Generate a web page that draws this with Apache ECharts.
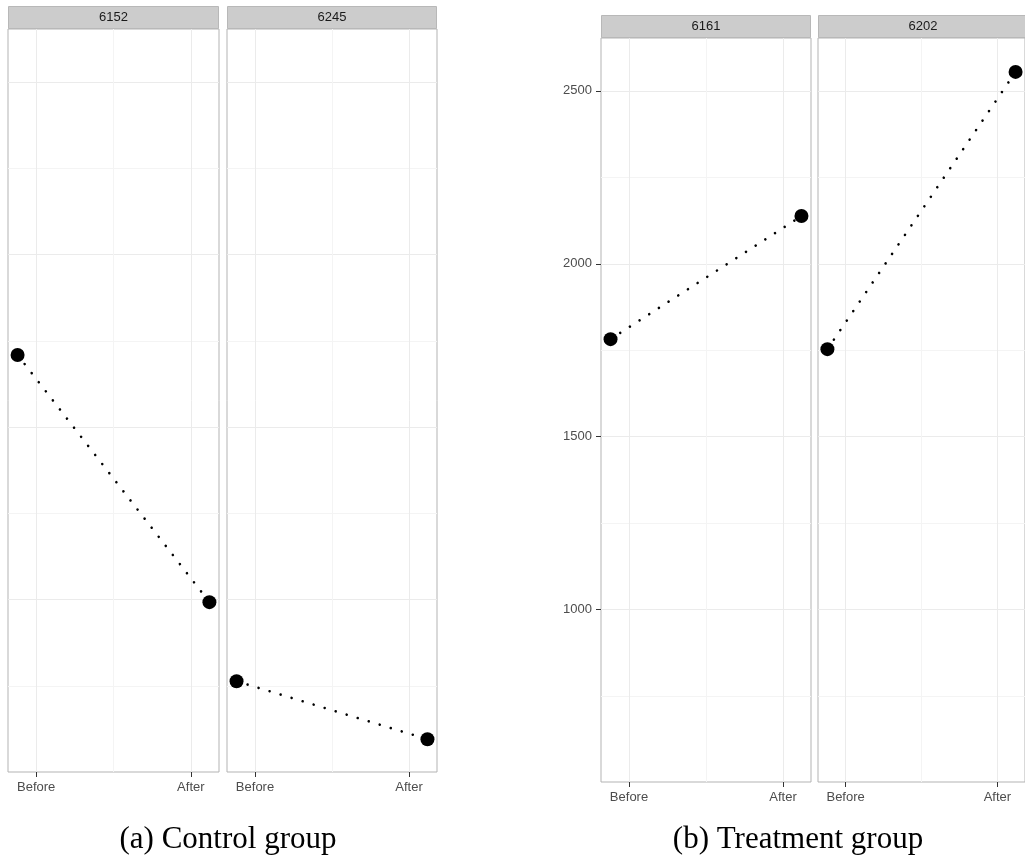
<!DOCTYPE html>
<html><head><meta charset="utf-8">
<script src="https://cdn.jsdelivr.net/npm/echarts@6/dist/echarts.min.js"></script>
<style>html,body{margin:0;padding:0;background:#fff}#c{width:1025px;height:861px}</style>
</head><body><div id="c"></div>
<script>
// ---- data ----
const panelIds = ['6152', '6245', '6161', '6202'];
const beforeX = [0.88, 0.88, 0.88, 0.88];
const afterX = [2.12, 2.12, 2.12, 2.12];
const beforeValues = [1709, 764, 1782, 1753];
const afterValues = [993, 596, 2138, 2555];
const xTickValues = [1, 2];
const xTickLabels = ['Before', 'After'];
const xMinorValues = [1.5];
const yTickValues = [1000, 1500, 2000, 2500];
const yMinorValues = [750, 1250, 1750, 2250];
const captions = ['(a) Control group', '(b) Treatment group'];

// ---- layout ----
const X_MIN = 0.818, X_MAX = 2.182, Y_MIN = 501, Y_MAX = 2653;
const layout = [
  { left: 8,   top: 29, width: 211, height: 743, yLabels: false },
  { left: 227, top: 29, width: 210, height: 743, yLabels: false },
  { left: 601, top: 38, width: 210, height: 744, yLabels: true },
  { left: 818, top: 38, width: 210, height: 744, yLabels: false }
];
const STRIP_H = 23;
const captionPos = [[228, 840], [798, 840]];
const FONT = '"Liberation Sans", Arial, sans-serif';

const grids = [], xAxes = [], yAxes = [], series = [], graphics = [];
layout.forEach((L, i) => {
  grids.push({ left: L.left, top: L.top, width: L.width, height: L.height,
    show: true, borderColor: '#b3b3b3', borderWidth: 1, backgroundColor: '#fff', containLabel: false });
  // major x axis with ticks + labels
  xAxes.push({ type: 'value', gridIndex: i, min: X_MIN, max: X_MAX, position: 'bottom',
    axisLine: { show: false },
    axisTick: { show: true, customValues: xTickValues, length: 5, lineStyle: { color: '#333' } },
    axisLabel: { show: true, customValues: xTickValues, margin: 9, color: '#4d4d4d', fontSize: 13, fontFamily: FONT,
      formatter: v => { const k = xTickValues.indexOf(v); return k >= 0 ? xTickLabels[k] : ''; } },
    splitLine: { show: true, lineStyle: { color: '#ebebeb', width: 1 } } });
  // minor x gridline axis
  xAxes.push({ type: 'value', gridIndex: i, min: X_MIN, max: X_MAX, position: 'bottom',
    axisLine: { show: false },
    axisTick: { show: false, customValues: xMinorValues },
    axisLabel: { show: false },
    splitLine: { show: true, lineStyle: { color: '#f4f4f4', width: 1 } } });
  // major y axis
  yAxes.push({ type: 'value', gridIndex: i, min: Y_MIN, max: Y_MAX,
    axisLine: { show: false },
    axisTick: { show: L.yLabels, customValues: yTickValues, length: 5, lineStyle: { color: '#333' } },
    axisLabel: { show: L.yLabels, customValues: yTickValues, margin: 9, color: '#4d4d4d', fontSize: 13, fontFamily: FONT,
      formatter: v => String(v) },
    splitLine: { show: true, lineStyle: { color: '#ebebeb', width: 1 } } });
  // minor y gridline axis
  yAxes.push({ type: 'value', gridIndex: i, min: Y_MIN, max: Y_MAX,
    axisLine: { show: false },
    axisTick: { show: false, customValues: yMinorValues },
    axisLabel: { show: false },
    splitLine: { show: true, lineStyle: { color: '#f4f4f4', width: 1 } } });

  series.push({ type: 'line', xAxisIndex: 2 * i, yAxisIndex: 2 * i,
    data: [[beforeX[i], beforeValues[i]], [afterX[i], afterValues[i]]],
    symbol: 'circle', symbolSize: 14, clip: false,
    itemStyle: { color: '#000' },
    lineStyle: { color: '#000', width: 2.6, type: [0.01, 11.5], cap: 'round' },
    z: 5, animation: false });

  graphics.push({ type: 'rect', silent: true,
    shape: { x: L.left + 0.5, y: L.top - STRIP_H + 0.5, width: L.width - 1, height: STRIP_H - 1 },
    style: { fill: '#cccccc', stroke: '#b8b8b8', lineWidth: 1 } });
  graphics.push({ type: 'text', silent: true,
    style: { text: panelIds[i], x: L.left + L.width / 2, y: L.top - STRIP_H / 2,
      align: 'center', verticalAlign: 'middle', font: '13px ' + FONT, fill: '#1a1a1a' } });
});

captions.forEach((c, k) => {
  graphics.push({ type: 'text', silent: true,
    style: { text: c, x: captionPos[k][0], y: captionPos[k][1], align: 'center', verticalAlign: 'middle',
      font: '31px "Liberation Serif", "Times New Roman", serif', fill: '#000' } });
});

const chart = echarts.init(document.getElementById('c'), null, { renderer: 'canvas' });
chart.setOption({
  animation: false,
  backgroundColor: '#fff',
  grid: grids, xAxis: xAxes, yAxis: yAxes, series: series,
  graphic: { elements: graphics }
});
</script>
</body></html>
